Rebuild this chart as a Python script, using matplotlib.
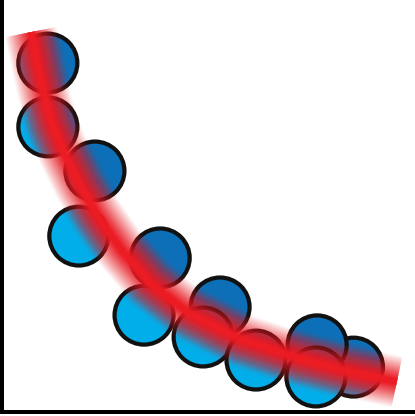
import numpy as np
import matplotlib
matplotlib.use("Agg")
import matplotlib.pyplot as plt
from matplotlib.patches import Circle, Polygon

# scatter points, listed in drawing order (later ones sit on top)
pt_x = [11.1, 11.1, 22.5, 18.6, 38.3, 34.4, 52.8, 48.7, 61.5, 85.1, 76.3, 76.0]
pt_y = [84.7, 69.2, 58.5, 42.7, 37.4, 23.5, 25.5, 18.2, 12.6, 10.9, 16.3, 8.5]

# trend curve
fit_x = [7.0, 8.5, 10.2, 12.1, 15.0, 18.9, 23.2, 29.1, 35.8, 45.5, 57.6, 72.2, 84.3, 95.6]
fit_y = [92.2, 84.7, 76.9, 69.9, 62.9, 54.9, 47.6, 39.1, 31.3, 23.8, 17.7, 12.9, 9.7, 7.3]

BLUE = "#0d6fb8"
CYAN = "#02aeea"
RED = "#ec1c24"
EDGE = "#111111"
PX = 0.72  # points per pixel at dpi 100


def glow(ax, peak, n=26, w_out=52, w_in=6, clip=None, z=10):
    # stacked strokes whose summed opacity rises linearly to `peak` at the core
    widths = np.linspace(w_out, w_in, n)
    prev = 0.0
    for j, w in enumerate(widths):
        c = peak * (j + 1) / n
        a = 1.0 - (1.0 - c) / (1.0 - prev)
        ln, = ax.plot(fit_x, fit_y, color=RED, lw=w * PX, alpha=a,
                      solid_capstyle="butt", solid_joinstyle="round", zorder=z)
        if clip is not None:
            ln.set_clip_path(clip)
        prev = c


fig = plt.figure(figsize=(4.15, 4.16), dpi=100)
ax = fig.add_axes([2 / 415, 4 / 416, 413 / 415, 412 / 416])
ax.set_xlim(0, 100)
ax.set_ylim(0, 100)
ax.set_xticks([])
ax.set_yticks([])
for side in ["top", "right"]:
    ax.spines[side].set_visible(False)
for side in ["left", "bottom"]:
    ax.spines[side].set_linewidth(4 * PX)
    ax.spines[side].set_color("black")

# region above the curve (dark blue half of each bubble)
fx = np.array(fit_x)
fy = np.array(fit_y)
d0 = np.array([fx[0] - fx[1], fy[0] - fy[1]])
d1 = np.array([fx[-1] - fx[-2], fy[-1] - fy[-2]])
start = np.array([fx[0], fy[0]]) + d0 * 3
end = np.array([fx[-1], fy[-1]]) + d1 * 2
upper = np.vstack([start, np.column_stack([fx, fy]), end, [[120, 120]]])

r = 29.5 / 4.13
for i, (x, y) in enumerate(zip(pt_x, pt_y)):
    z = 2 + i * 0.1
    base = Circle((x, y), r, fc=CYAN, ec="none", zorder=z)
    ax.add_patch(base)
    top = Polygon(upper, closed=True, fc=BLUE, ec="none", zorder=z + 0.01)
    ax.add_patch(top)
    top.set_clip_path(base)
    # the red bleeds further into the bubbles than onto the white
    glow(ax, 0.55, n=16, w_out=58, w_in=8, clip=base, z=z + 0.015)
    ax.add_patch(Circle((x, y), r, fc="none", ec=EDGE, lw=4.2 * PX, zorder=z + 0.02))

glow(ax, 0.999)

fig.savefig("out.png", dpi=100)
